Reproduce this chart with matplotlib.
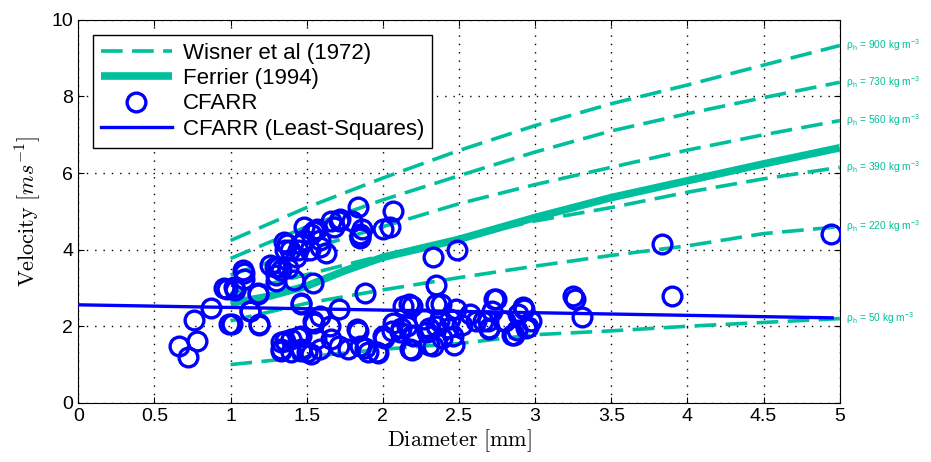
import matplotlib
matplotlib.use("Agg")
import matplotlib.pyplot as plt
import numpy as np

plt.rcParams['font.family'] = ['Liberation Sans', 'DejaVu Sans']
plt.rcParams['mathtext.fontset'] = 'cm'

teal = '#00bf9c'
blue = '#0000ff'

# Wisner et al (1972) curves for several hail densities
wis_d = [1.0, 1.5, 2.0, 2.5, 3.0, 3.5, 4.0, 4.5, 5.0]
wis_900 = [4.24, 5.10, 5.87, 6.59, 7.24, 7.81, 8.30, 8.82, 9.33]
wis_730 = [3.77, 4.60, 5.30, 5.93, 6.55, 7.10, 7.55, 7.97, 8.37]
wis_560 = [3.34, 4.00, 4.60, 5.20, 5.70, 6.15, 6.60, 7.00, 7.37]
wis_390 = [2.85, 3.35, 3.85, 4.30, 4.75, 5.10, 5.50, 5.85, 6.15]
wis_220 = [2.14, 2.60, 2.95, 3.27, 3.57, 3.85, 4.10, 4.42, 4.60]
wis_50 = [1.00, 1.20, 1.40, 1.55, 1.78, 1.88, 2.00, 2.10, 2.20]
densities = ['900', '730', '560', '390', '220', '50']

# Ferrier (1994)
fer_d = [1.0, 1.25, 1.5, 1.75, 2.0, 2.5, 3.0, 3.5, 4.0, 4.5, 5.0]
fer_v = [2.60, 2.78, 3.05, 3.45, 3.80, 4.27, 4.84, 5.36, 5.80, 6.24, 6.66]

# least-squares fit
ls_d = [0.0, 4.95]
ls_v = [2.56, 2.22]

# CFARR observations
obs_d = [0.66, 0.72, 0.78, 0.76, 0.87, 1.01, 0.98, 1.08, 1.09, 1.02, 1.13, 1.19, 1.18,
         1.30, 1.26, 1.35, 1.46, 1.54, 1.48, 1.55, 1.46, 1.39, 1.31, 1.36, 1.33, 1.44,
         1.46, 1.40, 1.53,
         1.84, 2.07, 2.00, 2.05, 1.86, 1.85, 1.80, 1.71, 1.68, 1.66, 1.57, 1.53, 1.48,
         1.59, 1.63, 1.59, 1.52, 1.44, 1.37, 1.36, 1.43, 1.29, 1.33, 1.38, 1.30, 1.42,
         1.54, 1.46, 1.18, 1.09, 0.96, 1.03, 1.13, 1.19, 0.99, 2.33, 2.49, 1.88, 2.35,
         2.35, 2.17, 1.71, 1.55, 1.59, 1.65, 1.33, 1.33, 1.40, 1.46, 1.46, 1.50, 1.56,
         1.59, 1.66, 1.71, 1.77, 1.83, 1.85, 1.90, 1.96, 2.00, 2.07, 2.13, 2.16, 2.11,
         2.20, 2.18, 2.27, 2.29, 2.35, 2.33, 2.44, 2.46,
         2.19, 2.38, 2.37, 2.48, 2.57, 2.61, 2.52, 2.43, 2.30, 2.19, 2.12, 2.06, 2.01,
         2.19, 2.30, 2.47, 2.39, 2.74, 2.72, 2.70, 2.79, 2.88, 2.92, 2.97, 2.94, 2.86,
         2.66, 1.84, 1.88, 1.97, 1.72, 1.85, 1.85,
         3.83, 3.90, 3.25, 3.26, 3.31, 2.73, 2.93, 2.69, 2.80, 2.85, 2.70, 2.95, 2.89,
         4.94]
obs_v = [1.49, 1.19, 1.62, 2.17, 2.48, 2.06, 2.98, 3.46, 3.24, 3.02, 2.41, 2.04, 2.85,
         3.33, 3.59, 4.20, 2.59, 2.15, 4.59, 4.50, 4.16, 3.98, 3.55, 1.62, 1.36, 1.71,
         1.36, 1.32, 1.28,
         5.12, 5.01, 4.54, 4.58, 4.54, 4.33, 4.76, 4.76, 4.58, 4.76, 4.54, 4.41, 4.24,
         4.24, 3.90, 4.07, 3.98, 3.98, 4.15, 3.98, 3.81, 3.55, 3.47, 3.51, 3.17, 3.21,
         3.12, 2.61, 2.87, 3.38, 3.00, 2.95, 2.39, 2.05, 2.05, 3.81, 4.00, 2.87, 3.08,
         2.57, 2.57, 2.44, 2.09, 2.27, 2.00, 1.58, 1.41, 1.67, 1.75, 1.41, 1.32, 1.67,
         1.41, 1.67, 1.49, 1.41, 1.92, 1.49, 1.32, 1.32, 1.75, 2.09, 2.52, 2.00, 1.84,
         1.75, 1.41, 2.18, 1.84, 2.00, 1.49, 2.18, 1.75,
         2.53, 2.58, 2.13, 2.44, 2.31, 2.13, 2.04, 1.96, 1.96, 1.78, 1.96, 1.87, 1.69,
         1.38, 1.51, 1.51, 1.69, 2.71, 2.40, 1.96, 2.13, 1.91, 2.49, 2.13, 1.96, 1.78,
         2.13, 1.87, 1.42, 1.29, 4.80, 4.40, 4.30,
         4.16, 2.80, 2.80, 2.72, 2.24, 2.72, 2.45, 2.15, 2.15, 1.76, 1.93, 1.97, 2.32,
         4.40]

xticks = [0, 0.5, 1, 1.5, 2, 2.5, 3, 3.5, 4, 4.5, 5]
xticklabels = ['0', '0.5', '1', '1.5', '2', '2.5', '3', '3.5', '4', '4.5', '5']
yticks = [0, 2, 4, 6, 8, 10]

fig = plt.figure(figsize=(9.31, 4.62), dpi=100)
ax = fig.add_axes([0.084, 0.128, 0.818, 0.829])

dash = (0, (6, 2.6))
wis_all = [wis_900, wis_730, wis_560, wis_390, wis_220, wis_50]
for i, w in enumerate(wis_all):
    ax.plot(wis_d, w, color=teal, lw=2.6, linestyle=dash,
            label='Wisner et al (1972)' if i == 0 else None, zorder=2)
ax.plot(fer_d, fer_v, color=teal, lw=5.5, solid_capstyle='butt',
        label='Ferrier (1994)', zorder=3)
ax.plot(obs_d, obs_v, linestyle='none', marker='o', ms=13.5, mfc='none',
        mec=blue, mew=2.4, label='CFARR', zorder=4)
ax.plot(ls_d, ls_v, color=blue, lw=2.4, label='CFARR (Least-Squares)', zorder=5)

for w, rho in zip(wis_all, densities):
    ax.text(5.04, w[-1], 'ρ$_\\mathregular{h}$ = ' + rho + ' kg m$^\\mathregular{-3}$',
            color=teal, fontsize=7.3, ha='left', va='center', clip_on=False)

ax.set_xlim(0, 5)
ax.set_ylim(0, 10)
ax.set_xticks(xticks)
ax.set_xticklabels(xticklabels)
ax.set_yticks(yticks)
ax.tick_params(direction='in', top=True, right=True, labelsize=14, length=4)
ax.grid(True, color='black', linestyle=(0, (1, 5)), linewidth=1.0)
ax.set_axisbelow(True)

ax.set_xlabel(r'$\mathrm{Diameter\ [mm]}$', fontsize=16, labelpad=2)
ax.set_ylabel(r'$\mathrm{Velocity}\ [ms^{-1}]$', fontsize=16, labelpad=6)

leg = ax.legend(loc='upper left', fontsize=16, frameon=True, fancybox=False,
                edgecolor='black', framealpha=1, borderaxespad=0.5,
                handlelength=3.2, labelspacing=0.2, borderpad=0.35,
                handletextpad=0.5, bbox_to_anchor=(0.005, 0.99))
leg.get_frame().set_linewidth(1.0)

fig.savefig('out.png', dpi=100)
